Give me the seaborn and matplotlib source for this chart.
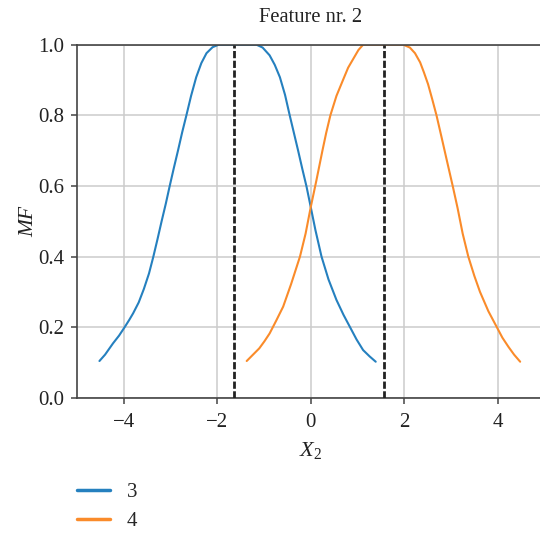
import matplotlib
matplotlib.use("Agg")
import matplotlib.pyplot as plt
import seaborn as sns
import pandas as pd

# ---- data ----
x3 = [-4.52, -4.40, -4.23, -4.10, -3.98, -3.88, -3.80, -3.68, -3.57, -3.46, -3.37,
      -3.28, -3.19, -3.10, -3.02, -2.93, -2.84, -2.75, -2.66, -2.56, -2.45, -2.34,
      -2.23, -2.10, -1.97, -1.57, -1.16, -1.03, -0.88, -0.77, -0.66, -0.55, -0.45,
      -0.36, -0.27, -0.18, -0.09, 0.00, 0.10, 0.23, 0.38, 0.55, 0.70, 0.84, 0.98,
      1.12, 1.26, 1.39]
y3 = [0.104, 0.122, 0.154, 0.176, 0.200, 0.221, 0.239, 0.270, 0.308, 0.352, 0.398,
      0.448, 0.500, 0.550, 0.598, 0.650, 0.700, 0.752, 0.800, 0.855, 0.908, 0.948,
      0.976, 0.993, 1.000, 1.000, 1.000, 0.992, 0.970, 0.943, 0.908, 0.858, 0.800,
      0.750, 0.700, 0.648, 0.598, 0.540, 0.475, 0.400, 0.335, 0.277, 0.235, 0.200,
      0.165, 0.135, 0.117, 0.102]
x4 = [-1.37, -1.25, -1.10, -0.99, -0.88, -0.74, -0.59, -0.42, -0.23, -0.11, 0.00,
      0.12, 0.25, 0.33, 0.42, 0.55, 0.69, 0.80, 0.91, 1.02, 1.12, 1.55, 1.98, 2.12,
      2.23, 2.34, 2.42, 2.51, 2.60, 2.69, 2.80, 2.91, 3.04, 3.14, 3.25, 3.37, 3.50,
      3.62, 3.80, 3.98, 4.10, 4.23, 4.35, 4.48]
y4 = [0.104, 0.120, 0.140, 0.160, 0.182, 0.218, 0.258, 0.322, 0.400, 0.465, 0.540,
      0.615, 0.700, 0.750, 0.800, 0.855, 0.900, 0.935, 0.960, 0.985, 1.000, 1.000,
      1.000, 0.992, 0.976, 0.950, 0.922, 0.888, 0.845, 0.800, 0.737, 0.673, 0.598,
      0.538, 0.465, 0.400, 0.345, 0.300, 0.245, 0.200, 0.170, 0.144, 0.122, 0.102]
labels = ["3", "4"]
centers = [-1.64, 1.57]
xticks = [-4, -2, 0, 2, 4]
yticks = [0.0, 0.2, 0.4, 0.6, 0.8, 1.0]
title = "Feature nr. 2"
xlabel = r"$X_2$"
ylabel = "MF"

df = pd.concat([
    pd.DataFrame({"x": x3, "y": y3, "mf": labels[0]}),
    pd.DataFrame({"x": x4, "y": y4, "mf": labels[1]}),
], ignore_index=True)

sns.set_theme(style="whitegrid")
plt.rcParams["font.family"] = ["Liberation Serif", "DejaVu Serif"]
plt.rcParams["mathtext.fontset"] = "custom"
plt.rcParams["mathtext.it"] = "Liberation Serif:italic"
plt.rcParams["mathtext.rm"] = "Liberation Serif"
plt.rcParams["axes.unicode_minus"] = True

FS = 15
fig = plt.figure(figsize=(5.4, 5.33), dpi=100)
ax = fig.add_axes([0.1426, 0.2538, 0.8657, 0.6623])

sns.lineplot(data=df, x="x", y="y", hue="mf", estimator=None, sort=True,
             palette=["#2580bf", "#fa8b2a"], linewidth=1.5, ax=ax)

for c in centers:
    ax.axvline(c, color="#222222", lw=2, ls=(0, (2.6, 0.9)), zorder=3)

ax.set_xlim(-5, 5)
ax.set_ylim(0, 1)
ax.set_xticks(xticks)
ax.set_yticks(yticks)
ax.set_xticklabels([f"{t}".replace("-", "\u2212") for t in xticks], fontsize=FS)
ax.set_yticklabels([f"{t:.1f}" for t in yticks], fontsize=FS)
ax.grid(True, color="#cccccc", lw=1.1)
for s in ax.spines.values():
    s.set_color("#444444")
    s.set_linewidth(1.2)
    s.set_visible(True)
ax.tick_params(axis="both", which="major", direction="out", length=4, width=1.1,
               color="#444444", labelcolor="#222222", pad=5, bottom=True, left=True)
ax.tick_params(axis="x", pad=7)
ax.set_title(title, fontsize=14.8, color="#222222", pad=16)
ax.set_xlabel(xlabel, fontsize=FS + 1, color="#222222", labelpad=6)
ax.set_ylabel(ylabel, fontsize=15.5, color="#222222", style="italic", labelpad=0)

sns.move_legend(ax, "upper left", bbox_to_anchor=(0.1426, 0.094),
                bbox_transform=fig.transFigure, frameon=False, title=None,
                fontsize=FS, borderpad=0, borderaxespad=0, handlelength=1.6,
                handletextpad=0.8, labelspacing=0.45)
for line in ax.get_legend().get_lines():
    line.set_linewidth(2.5)

fig.savefig("out.png", dpi=100)
